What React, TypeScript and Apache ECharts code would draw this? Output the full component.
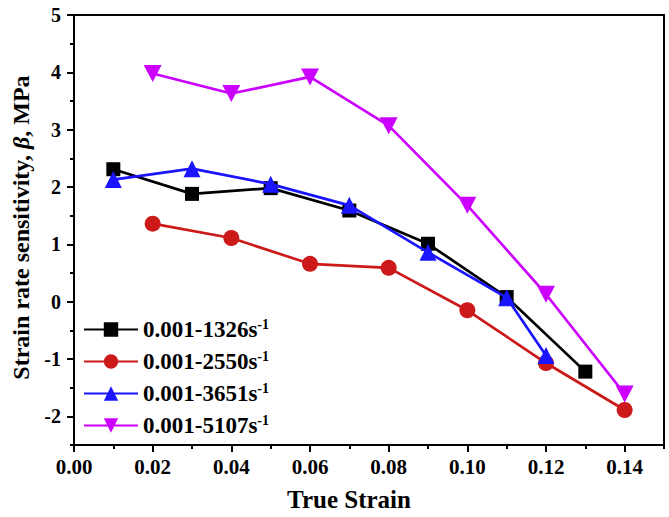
import React, { useEffect, useRef } from 'react';
import * as echarts from 'echarts';

const FONT = '"Liberation Serif", "Times New Roman", serif';

const seriesNames = ['0.001-1326', '0.001-2550', '0.001-3651', '0.001-5107'];
const seriesColors = ['#000000', '#cc1a1a', '#1a14ff', '#cc00ff'];
const seriesSymbols = ['rect', 'circle', 'triangle', 'path://M0,0 L10,0 L5,9 Z'];
const seriesSymbolSizes = [14, 16, 17, [18, 17]];

const xBlack = [0.01, 0.03, 0.05, 0.07, 0.09, 0.11, 0.13];
const yBlack = [2.31, 1.88, 1.98, 1.59, 1.01, 0.08, -1.22];
const xRed = [0.02, 0.04, 0.06, 0.08, 0.1, 0.12, 0.14];
const yRed = [1.36, 1.11, 0.66, 0.59, -0.15, -1.07, -1.89];
const xBlue = [0.01, 0.03, 0.05, 0.07, 0.09, 0.11, 0.12];
const yBlue = [2.13, 2.32, 2.05, 1.68, 0.86, 0.07, -0.94];
const xMagenta = [0.02, 0.04, 0.06, 0.08, 0.1, 0.12, 0.14];
const yMagenta = [3.98, 3.63, 3.92, 3.07, 1.68, 0.13, -1.61];

const yTickValues = [-2.5, -2, -1.5, -1, -0.5, 0, 0.5, 1, 1.5, 2, 2.5, 3, 3.5, 4, 4.5, 5];

const xs = [xBlack, xRed, xBlue, xMagenta];
const ys = [yBlack, yRed, yBlue, yMagenta];

export default function App() {
  const ref = useRef<HTMLDivElement>(null);
  useEffect(() => {
    if (!ref.current) return;
    const chart = echarts.init(ref.current, null, { renderer: 'svg' });
    const axisLine = { show: true, onZero: false, lineStyle: { color: '#000', width: 2 } };
    const labelStyle = { color: '#000', fontFamily: FONT, fontWeight: 'bold' as const };
    chart.setOption({
      animation: false,
      backgroundColor: '#fff',
      grid: {
        left: 74,
        right: 5,
        top: 15,
        bottom: 69,
        show: true,
        borderColor: '#000',
        borderWidth: 2,
        backgroundColor: 'transparent',
      },
      legend: {
        orient: 'vertical',
        left: 78,
        top: 312,
        itemWidth: 54,
        itemHeight: 18,
        itemGap: 8,
        data: seriesNames,
        formatter: (name: string) => `${name}s{sup|-1}`,
        textStyle: {
          ...labelStyle,
          fontSize: 23,
          rich: {
            sup: { ...labelStyle, fontSize: 14, padding: [0, 0, 11, 0] },
          },
        },
      },
      xAxis: [
        {
          type: 'value',
          min: 0,
          max: 0.15,
          interval: 0.02,
          position: 'bottom',
          axisLine,
          axisTick: { show: true, length: 7, lineStyle: { color: '#000', width: 2 } },
          axisLabel: {
            ...labelStyle,
            fontSize: 21,
            margin: 11,
            showMaxLabel: false,
            formatter: (v: number) => v.toFixed(2),
          },
          splitLine: { show: false },
          name: 'True Strain',
          nameLocation: 'middle',
          nameGap: 42,
          nameTextStyle: { ...labelStyle, fontSize: 25, padding: [0, 40, 0, 0] },
        },
        {
          type: 'value',
          min: 0,
          max: 0.15,
          interval: 0.01,
          position: 'bottom',
          axisLine: { show: false, onZero: false },
          axisTick: { show: true, length: 4, lineStyle: { color: '#000', width: 2 } },
          axisLabel: { show: false },
          splitLine: { show: false },
        },
      ],
      yAxis: [
        {
          type: 'value',
          min: -2.5,
          max: 5,
          interval: 0.5,
          position: 'left',
          axisLine,
          axisTick: { show: true, length: 4, lineStyle: { color: '#000', width: 2 } },
          axisLabel: {
            ...labelStyle,
            fontSize: 20,
            margin: 13,
            formatter: (v: number) => (Number.isInteger(v) ? String(v) : ''),
          },
          splitLine: { show: false },
          name: 'Strain rate sensitivity, {i|β}, MPa',
          nameLocation: 'middle',
          nameGap: 37,
          nameRotate: 90,
          nameTextStyle: {
            ...labelStyle,
            fontSize: 24,
            padding: [0, 0, 0, 5],
            rich: { i: { ...labelStyle, fontSize: 24, fontStyle: 'italic' } },
          },
        },
        {
          type: 'category',
          data: yTickValues.map(String),
          boundaryGap: false,
          position: 'left',
          axisLine: { show: false, onZero: false },
          axisTick: {
            show: true,
            length: 7,
            interval: (_i: number, v: string) => Number.isInteger(Number(v)),
            lineStyle: { color: '#000', width: 2 },
          },
          axisLabel: { show: false },
          splitLine: { show: false },
        },
      ],
      series: seriesNames.map((name, k) => ({
        name,
        type: 'line',
        xAxisIndex: 0,
        yAxisIndex: 0,
        data: xs[k].map((x, i) => [x, ys[k][i]]),
        symbol: seriesSymbols[k],
        symbolSize: seriesSymbolSizes[k],
        showAllSymbol: true,
        color: seriesColors[k],
        itemStyle: { color: seriesColors[k] },
        lineStyle: { color: seriesColors[k], width: 2.7 },
        emphasis: { disabled: true },
        z: 2 + k,
      })),
    });
    return () => chart.dispose();
  }, []);
  return (
    <div
      ref={ref}
      style={{ position: 'fixed', left: 0, top: 0, width: 669, height: 517, background: '#fff' }}
    />
  );
}
